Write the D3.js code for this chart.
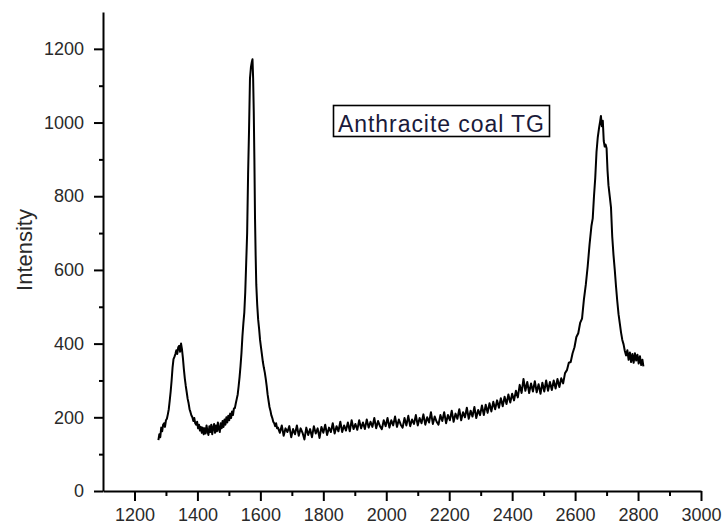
<!DOCTYPE html>
<html>
<head>
<meta charset="utf-8">
<script src="https://cdn.jsdelivr.net/npm/d3@7"></script>
<style>
  html, body { margin: 0; padding: 0; background: #fff; }
  svg { display: block; }
</style>
</head>
<body>
<svg id="chart" width="724" height="529"></svg>
<script>
// ---- data (Raman spectrum) ----
const wavenumberDomain = [1100, 3000];
const intensityDomain = [0, 1300];
const xMajorTicks = [1200, 1400, 1600, 1800, 2000, 2200, 2400, 2600, 2800, 3000];
const xMinorTicks = [1300, 1500, 1700, 1900, 2100, 2300, 2500, 2700, 2900];
const yMajorTicks = [0, 200, 400, 600, 800, 1000, 1200];
const yMinorTicks = [100, 300, 500, 700, 900, 1100];
const yTitle = "Intensity";
const legendLabel = "Anthracite coal TG";

// D band region
const dBand = [
  [1276,138],[1279,154],[1282,146],[1285,172],[1288,162],[1291,180],[1294,184],[1297,174],[1300,192],
  [1303,196],[1306,208],[1309,222],[1312,245],[1315,270],[1318,300],[1321,335],[1324,358],[1327,364],
  [1330,372],[1333,382],[1336,372],[1339,390],[1342,394],[1345,378],[1348,400],[1351,384],[1354,360],
  [1357,330],[1360,305],[1363,285],[1366,268],[1369,250],[1372,238],[1375,222],[1378,214],[1381,205],
  [1384,200],[1387,190],[1390,198],[1393,184],[1396,180],[1399,188],[1402,170],[1405,180],[1408,164],
  [1411,174],[1414,158],[1417,172],[1420,154]
];
// valley + G band
const gBand = [
  [1423,170],[1426,156],[1429,178],[1432,162],[1435,152],[1438,176],[1441,160],[1444,180],[1447,154],
  [1450,172],[1453,182],[1456,158],[1459,178],[1462,162],[1465,186],[1468,168],[1471,160],[1474,184],
  [1477,170],[1480,190],[1483,174],[1486,194],[1489,180],[1492,200],[1495,186],[1498,204],[1501,192],
  [1504,210],[1507,198],[1510,216],[1513,206],[1516,224],[1519,225],[1522,238],[1525,250],[1528,262],
  [1531,285],[1534,310],[1537,340],[1540,375],[1543,420],[1546,455],[1549,485],[1552,540],[1555,620],
  [1558,700],[1561,860],[1564,980],[1567,1120],[1570,1150],[1573,1165],[1575,1172],[1577,1120],
  [1579,1030],[1581,900],[1583,740],[1585,640],[1587,560],[1590,505],[1593,465],[1596,440],[1599,410],
  [1602,390],[1605,370],[1608,350],[1611,335],[1614,322],[1617,305],[1620,285],[1623,262],[1626,245],
  [1629,228],[1632,218],[1635,205],[1638,198],[1641,188],[1644,184],[1647,176],[1650,184],[1653,170]
];
// broad background between the bands
const baseline = [
  [1656,172],[1662,158],[1668,178],[1674,150],[1680,170],[1686,160],[1692,176],[1698,146],[1704,168],
  [1710,154],[1716,178],[1722,150],[1728,170],[1734,158],[1740,140],[1746,172],[1752,152],[1758,168],
  [1764,146],[1770,176],[1776,156],[1782,170],[1788,144],[1794,174],[1800,158],[1806,180],[1812,152],
  [1818,172],[1824,160],[1830,184],[1836,156],[1842,176],[1848,162],[1854,188],[1860,160],[1866,178],
  [1872,164],[1878,186],[1884,162],[1890,192],[1896,168],[1902,182],[1908,166],[1914,192],[1920,170],
  [1926,186],[1932,168],[1938,194],[1944,172],[1950,188],[1956,174],[1962,198],[1968,170],[1974,190],
  [1980,176],[1986,168],[1992,192],[1998,176],[2004,198],[2010,172],[2016,192],[2022,178],[2028,202],
  [2034,174],[2040,194],[2046,180],[2052,172],[2058,198],[2064,178],[2070,204],[2076,176],[2082,194],
  [2088,182],[2094,206],[2100,178],[2106,198],[2112,184],[2118,208],[2124,180],[2130,200],[2136,186],
  [2142,214],[2148,182],[2154,202],[2160,188],[2166,180],[2172,206],[2178,190],[2184,214],[2190,184],
  [2196,206],[2202,192],[2208,218],[2214,188],[2220,210],[2226,196],[2232,222],[2238,192],[2244,214],
  [2250,200],[2256,226],[2262,196],[2268,218],[2274,202],[2280,228],[2286,198],[2292,220],[2298,206],
  [2304,232],[2310,206],[2316,234],[2322,212],[2328,238],[2334,216],[2340,242],[2346,222],[2352,246],
  [2358,226],[2364,252],[2370,230],[2376,256],[2382,236],[2388,262],[2394,240],[2400,264],[2406,246],
  [2412,272],[2418,254],[2424,288],[2430,266],[2436,304],[2442,272],[2448,296],[2454,266],[2460,292],
  [2466,270],[2472,298],[2478,268],[2484,290],[2490,264],[2496,294],[2502,270],[2508,300],[2514,272],
  [2520,296],[2526,274],[2532,300],[2538,278],[2544,304],[2550,282],[2556,306]
];
// 2D band
const band2D = [
  [2562,292],[2568,320],[2574,328],[2580,348],[2586,350],[2592,374],[2598,390],[2604,418],[2610,428],
  [2616,456],[2622,468],[2628,520],[2634,560],[2640,610],[2646,670],[2652,720],[2656,740],[2660,800],
  [2664,850],[2668,920],[2672,960],[2676,985],[2679,1000],[2682,1018],[2685,990],[2688,1005],[2691,950],
  [2694,935],[2697,940],[2700,930],[2703,870],[2706,830],[2710,800],[2714,770],[2718,690],[2722,640],
  [2726,600],[2730,555],[2734,515],[2738,480],[2742,455],[2746,430],[2750,410],[2754,398],[2758,380],
  [2762,368],[2766,382],[2770,356],[2774,376],[2778,350],[2782,372],[2786,348],[2790,374],[2794,354],
  [2798,370],[2802,346],[2806,366],[2810,342],[2814,356],[2817,338]
];

// ---- drawing ----
const svg = d3.select("#chart");
const x = d3.scaleLinear().domain(wavenumberDomain).range([103, 701]);
const y = d3.scaleLinear().domain(intensityDomain).range([491, 12]);

const spectrum = dBand.concat(gBand, baseline, band2D);

svg.append("path")
  .datum(spectrum)
  .attr("fill", "none")
  .attr("stroke", "#000")
  .attr("stroke-width", 2)
  .attr("stroke-linejoin", "round")
  .attr("d", d3.line().x(d => x(d[0])).y(d => y(d[1])));

// minor ticks
svg.append("g")
  .attr("transform", "translate(0,491)")
  .call(d3.axisBottom(x).tickValues(xMinorTicks).tickSize(5).tickFormat("").tickSizeOuter(0))
  .call(g => g.select(".domain").remove())
  .call(g => g.selectAll("line").attr("stroke", "#000").attr("stroke-width", 2));
svg.append("g")
  .attr("transform", "translate(103,0)")
  .call(d3.axisLeft(y).tickValues(yMinorTicks).tickSize(4).tickFormat("").tickSizeOuter(0))
  .call(g => g.select(".domain").remove())
  .call(g => g.selectAll("line").attr("stroke", "#000").attr("stroke-width", 2));

// major axes
svg.append("g")
  .attr("transform", "translate(0,491)")
  .call(d3.axisBottom(x).tickValues(xMajorTicks).tickSize(10).tickPadding(7).tickSizeOuter(0).tickFormat(d3.format("d")))
  .call(g => g.select(".domain").attr("stroke", "#000").attr("stroke-width", 2))
  .call(g => g.selectAll("line").attr("stroke", "#000").attr("stroke-width", 2));
svg.append("g")
  .attr("transform", "translate(103,0)")
  .call(d3.axisLeft(y).tickValues(yMajorTicks).tickSize(9).tickPadding(10).tickSizeOuter(0).tickFormat(d3.format("d")))
  .call(g => g.select(".domain").attr("stroke", "#000").attr("stroke-width", 2))
  .call(g => g.selectAll("line").attr("stroke", "#000").attr("stroke-width", 2));

svg.selectAll(".tick text")
  .style("font-family", "'Liberation Sans', Arial, sans-serif")
  .style("font-size", "18px")
  .attr("fill", "#2a2a2a");

// y title
svg.append("text")
  .attr("transform", "translate(32,250) rotate(-90)")
  .attr("text-anchor", "middle")
  .style("font-family", "'Liberation Sans', Arial, sans-serif")
  .style("font-size", "22px")
  .attr("fill", "#2a2a2a")
  .text(yTitle);

// legend box
svg.append("rect")
  .attr("x", 333.5).attr("y", 105.5).attr("width", 216).attr("height", 31)
  .attr("fill", "#fff").attr("stroke", "#000").attr("stroke-width", 1.6);
svg.append("text")
  .attr("x", 338).attr("y", 131.5)
  .attr("textLength", 206).attr("lengthAdjust", "spacing")
  .style("font-family", "'Liberation Sans', Arial, sans-serif")
  .style("font-size", "23px")
  .attr("fill", "#1a1a3a")
  .text(legendLabel);
</script>
</body>
</html>
